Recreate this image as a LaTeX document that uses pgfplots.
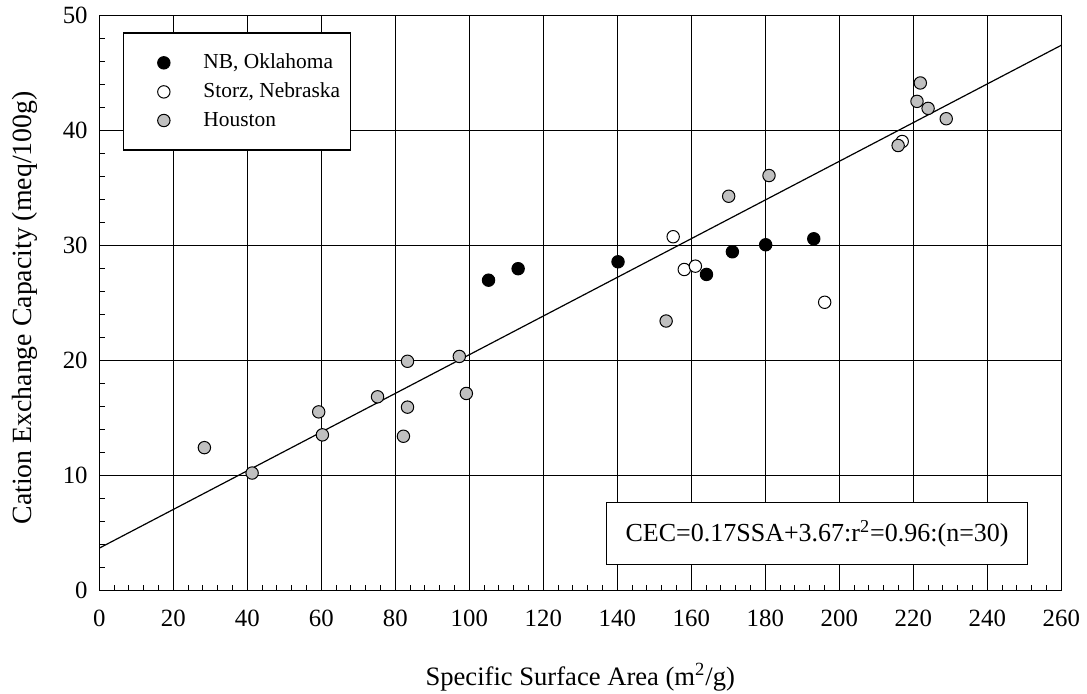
\documentclass[border=0pt]{standalone}
\usepackage{pgfplots}
\pgfplotsset{compat=1.18}
\usepackage{fontspec}
\setmainfont{Liberation Serif}
\usetikzlibrary{calc}

\definecolor{hgrey}{RGB}{192,192,192}

\pgfplotsset{
  mylegend/.style={legend image code/.code={%
      \draw[##1] plot coordinates {(0pt,0pt)};
      \path (-16.4pt,0pt) (17.5pt,0pt);}},
  cecmark/.style={only marks, mark=*, mark size=3.1pt, draw=black,
      mark options={line width=0.5pt}, mylegend},
}

\begin{document}
\begin{tikzpicture}[font=\fontsize{12.4}{14}\selectfont]
\begin{axis}[
  scale only axis,
  width=481pt, height=287.5pt,
  xmin=0, xmax=260, ymin=0, ymax=50,
  xtick distance=20, ytick distance=10,
  minor x tick num=4, minor y tick num=4,
  tick align=inside, xtick pos=bottom, ytick pos=left,
  minor tick length=2.8pt, major tick length=5pt,
  grid=major, major grid style={black, line width=0.5pt},
  axis line style={black, line width=0.6pt},
  every tick/.style={black, line width=0.5pt},
  /pgf/number format/assume math mode=true,
  xticklabel style={yshift=-6pt},
  yticklabel style={xshift=-2.3pt},
  xlabel={Specific Surface Area (m\textsuperscript{2}/g)},
  ylabel={Cation Exchange Capacity (meq/100g)},
  xlabel style={at={(axis description cs:0.5,-0.150)}, anchor=center,
                font=\fontsize{13.3}{15}\selectfont},
  ylabel style={at={(axis description cs:-0.0772,0.4917)}, anchor=center,
                font=\fontsize{13.9}{15}\selectfont},
  legend style={at={(axis description cs:0.0249,0.9711)}, anchor=north west,
      draw=black, line width=0.6pt, inner xsep=3.3pt, inner ysep=8.5pt,
      row sep=1.6pt, font=\fontsize{10.7}{12}\selectfont,
      nodes={inner sep=2pt, text depth=0.15em}},
  legend cell align=left,
]
% regression line
\addplot[black, line width=0.6pt, forget plot] coordinates {(0,3.7) (260,47.43)};

% NB, Oklahoma
\addplot[cecmark, fill=black] coordinates {
  (105.2,27.0) (113.2,28.0) (140.2,28.6) (164.1,27.5)
  (171.1,29.47) (180.1,30.08) (193.1,30.6)
};
\addlegendentry{NB, Oklahoma}

% Storz, Nebraska
\addplot[cecmark, fill=white] coordinates {
  (155.1,30.78) (158.1,27.93) (161.1,28.22) (196.05,25.08) (217.0,39.06)
};
\addlegendentry{Storz, Nebraska}

% Houston
\addplot[cecmark, fill=hgrey] coordinates {
  (28.4,12.44) (41.3,10.23) (59.3,15.55) (60.3,13.55) (75.2,16.86)
  (82.2,13.43) (83.3,15.96) (83.3,19.95) (97.3,20.37) (99.2,17.15)
  (153.2,23.45) (170.1,34.3) (181.0,36.1) (215.9,38.71) (221.0,42.55)
  (221.9,44.15) (224.0,41.94) (228.9,41.04)
};
\addlegendentry{Houston}

\node[draw=black, fill=white, line width=0.6pt, minimum width=210.5pt,
      minimum height=31pt, inner sep=0pt, font=\fontsize{13}{15}\selectfont]
  at (axis cs:194,4.96) {CEC=0.17SSA+3.67:r\textsuperscript{2}=0.96:(n=30)};
\end{axis}
\pgfresetboundingbox
\path ($(current axis.south west)+(-49.65pt,-51.65pt)$) rectangle
      ($(current axis.north east)+(12.85pt,7.85pt)$);
\end{tikzpicture}
\end{document}
